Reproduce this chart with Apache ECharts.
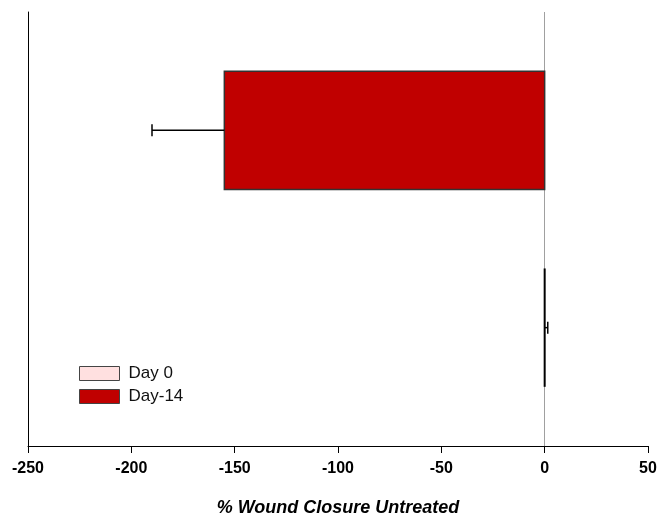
<!DOCTYPE html>
<html>
<head>
<meta charset="utf-8">
<script src="https://cdn.jsdelivr.net/npm/echarts@6/dist/echarts.min.js"></script>
<style>
  html, body { margin: 0; padding: 0; background: #fff; }
  #chart { width: 660px; height: 517px; }
</style>
</head>
<body>
<div id="chart"></div>
<script>
// Wound closure (%) per time point, mean and error
const categories = ['Day 0', 'Day-14'];
const means = [0, -155];
const errors = [1.5, 35];
const colors = ['#FFE0E0', '#C00000'];

const xMin = -250, xMax = 50, xStep = 50;
const barThickness = 0.6; // in category units

const FONT = 'Arial, "Liberation Sans", sans-serif';

function renderBar(params, api) {
  const v = api.value(0);
  const c = api.value(1);
  const e = api.value(2);
  const base = api.coord([0, c]);
  const end = api.coord([v, c]);
  const h = api.size([0, barThickness])[1];
  const dir = v < 0 ? -1 : 1;
  const tip = api.coord([v + dir * e, c]);
  const capHalf = 6;
  const w = Math.abs(end[0] - base[0]);
  const children = [];
  if (w > 0) {
    children.push({
      type: 'rect',
      shape: { x: Math.min(base[0], end[0]), y: base[1] - h / 2, width: w, height: h },
      style: { fill: api.visual('color'), stroke: '#333', lineWidth: 1.5 }
    });
  } else {
    // a bar of zero length collapses to its outline
    children.push({
      type: 'line',
      shape: { x1: base[0], y1: base[1] - h / 2, x2: base[0], y2: base[1] + h / 2 },
      style: { stroke: '#000', lineWidth: 2 }
    });
  }
  children.push(
    {
      type: 'line',
      shape: { x1: end[0], y1: end[1], x2: tip[0], y2: tip[1] },
      style: { stroke: '#000', lineWidth: 1.5 }
    },
    {
      type: 'line',
      shape: { x1: tip[0], y1: tip[1] - capHalf, x2: tip[0], y2: tip[1] + capHalf },
      style: { stroke: '#000', lineWidth: 1.5 }
    }
  );
  return { type: 'group', children: children };
}

const series = categories.map((name, i) => ({
  name: name,
  type: 'custom',
  renderItem: renderBar,
  itemStyle: { color: colors[i], borderColor: '#333', borderWidth: 1 },
  encode: { x: 0, y: 1 },
  data: [[means[i], i, errors[i]]],
  z: 3
}));

// zero reference line, kept beneath the bars
series.push({
  name: 'zero',
  type: 'custom',
  renderItem: () => null,
  data: [],
  z: 1,
  markLine: {
    silent: true,
    z: 1,
    symbol: 'none',
    label: { show: false },
    lineStyle: { color: '#a0a0a0', width: 1, type: 'solid' },
    data: [{ xAxis: 0 }]
  }
});

const chart = echarts.init(document.getElementById('chart'), null, { renderer: 'canvas' });
chart.setOption({
  animation: false,
  backgroundColor: '#fff',
  grid: { left: 28, right: 12, top: 12, bottom: 71, containLabel: false, outerBoundsMode: 'none' },
  legend: {
    orient: 'vertical',
    left: 79,
    top: 365,
    padding: 0,
    icon: 'rect',
    itemWidth: 40,
    itemHeight: 14,
    itemGap: 6,
    itemStyle: { borderColor: '#444', borderWidth: 1 },
    textStyle: { fontFamily: FONT, fontSize: 17, color: '#111', padding: [0, 0, 0, 4] },
    data: categories
  },
  xAxis: {
    type: 'value',
    min: xMin,
    max: xMax,
    interval: xStep,
    axisLine: { show: true, onZero: false, lineStyle: { color: '#000', width: 1 } },
    axisTick: { show: true, length: 7, lineStyle: { color: '#000' } },
    axisLabel: { fontFamily: FONT, fontSize: 16, fontWeight: 'bold', color: '#000', margin: 15 },
    splitLine: { show: false },
    name: '% Wound Closure Untreated',
    nameLocation: 'middle',
    nameGap: 53,
    nameTextStyle: { fontFamily: FONT, fontSize: 18, fontWeight: 'bold', fontStyle: 'italic', color: '#000' }
  },
  yAxis: {
    type: 'value',
    min: -0.6,
    max: 1.6,
    axisLine: { show: true, onZero: false, lineStyle: { color: '#000', width: 1 } },
    axisTick: { show: false },
    axisLabel: { show: false },
    splitLine: { show: false }
  },
  series: series
});
</script>
</body>
</html>
